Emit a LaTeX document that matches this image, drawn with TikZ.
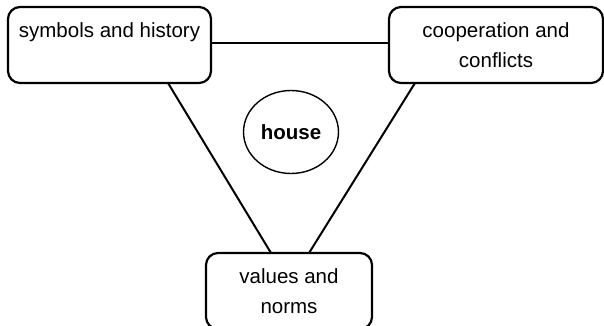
\documentclass[tikz,border=0pt]{standalone}
\usepackage{fontspec}
\setmainfont{Liberation Sans}
\usetikzlibrary{positioning,shapes.geometric}

\begin{document}
\begin{tikzpicture}[
    x=1pt, y=-1pt,
    font=\fontsize{20.5}{30}\selectfont,
    topic/.style={
        draw,
        rounded corners=12pt,
        line width=2.2pt,
        minimum height=76pt,
        outer sep=0pt,
        inner sep=0pt,
        align=center
    },
    core/.style={
        ellipse,
        draw,
        line width=1.4pt,
        minimum width=95pt,
        minimum height=83pt,
        font=\fontsize{20.5}{30}\selectfont\bfseries
    },
    link/.style={line width=2pt}
]
\useasboundingbox (0,0) rectangle (604,326);

% ============================================================
% BOXES
% ============================================================
\node[topic, minimum width=203pt] (sym) at (109.5,45) {symbols and history\\~};
\node[topic, minimum width=214pt, right=178pt of sym] (coop) {cooperation and\\conflicts};
\node[topic, minimum width=166pt] (val) at (289,291) {values and\\norms};

% centre
\node[core] (house) at (291,132) {house};

% ============================================================
% LINKS
% ============================================================
\draw[link] ([yshift=2pt]sym.east) -- ([yshift=2pt]coop.west);
\draw[link] ([xshift=58.5pt]sym.south) -- ([xshift=-18pt]val.north);
\draw[link] ([xshift=-81pt]coop.south) -- ([xshift=20pt]val.north);

\end{tikzpicture}
\end{document}
